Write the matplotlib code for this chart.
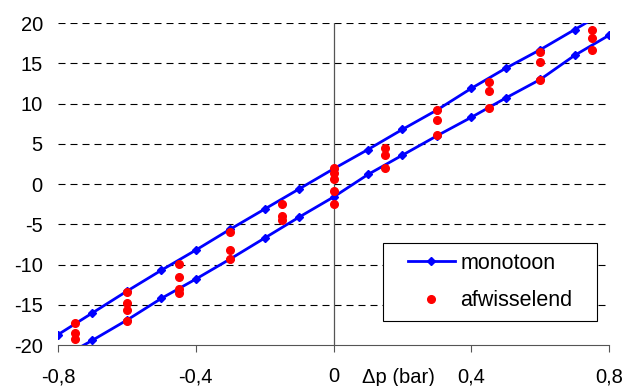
import matplotlib.pyplot as plt
from matplotlib.ticker import FixedLocator
from matplotlib.patches import Rectangle

plt.rcParams['font.family'] = ['Liberation Sans', 'DejaVu Sans']

# monotoon: upper branch and lower branch
mono_up_x = [-0.8, -0.7, -0.6, -0.5, -0.4, -0.3, -0.2, -0.1, 0.0, 0.1, 0.2, 0.3, 0.4, 0.5, 0.6, 0.7, 0.8]
mono_up_y = [-18.7, -16.0, -13.3, -10.7, -8.2, -5.6, -3.1, -0.6, 1.9, 4.3, 6.8, 9.2, 11.9, 14.4, 16.7, 19.2, 21.7]
mono_down_x = [-0.8, -0.7, -0.6, -0.5, -0.4, -0.3, -0.2, -0.1, 0.0, 0.1, 0.2, 0.3, 0.4, 0.5, 0.6, 0.7, 0.8]
mono_down_y = [-21.8, -19.4, -16.9, -14.2, -11.8, -9.3, -6.7, -4.1, -1.6, 1.2, 3.6, 6.0, 8.3, 10.7, 13.0, 16.0, 18.5]

# afwisselend measurements
alt_x = [-0.75, -0.75, -0.75,
         -0.6, -0.6, -0.6, -0.6,
         -0.45, -0.45, -0.45, -0.45,
         -0.3, -0.3, -0.3,
         -0.15, -0.15, -0.15,
         0.0, 0.0, 0.0, 0.0, 0.0,
         0.15, 0.15, 0.15,
         0.3, 0.3, 0.3,
         0.45, 0.45, 0.45,
         0.6, 0.6, 0.6,
         0.75, 0.75, 0.75]
alt_y = [-17.3, -18.5, -19.2,
         -13.4, -14.8, -15.6, -17.0,
         -9.9, -11.5, -13.0, -13.5,
         -6.0, -8.2, -9.3,
         -2.5, -3.9, -4.5,
         2.0, 1.4, 0.6, -0.9, -2.5,
         4.5, 3.6, 2.0,
         9.2, 8.0, 6.1,
         12.7, 11.6, 9.4,
         16.4, 15.2, 12.9,
         19.2, 18.2, 16.7]

xticks = [-0.8, -0.4, 0.0, 0.4, 0.8]
xtick_labels = ['-0,8', '-0,4', '0', '0,4', '0,8']
yticks = [-20, -15, -10, -5, 0, 5, 10, 15, 20]

fig = plt.figure(figsize=(6.26, 3.86), dpi=100)
ax = fig.add_axes([0.0927, 0.106, 0.8803, 0.834])

# dashed gridlines
for y in yticks[1:]:
    ax.axhline(y, color='black', lw=0.8, linestyle=(0, (6.3, 4.5)), zorder=1)
ax.axvline(0, color='#555555', lw=0.9, zorder=1)

ax.plot(mono_up_x, mono_up_y, color='blue', lw=2, marker='D', markersize=4, zorder=3,
        label='monotoon')
ax.plot(mono_down_x, mono_down_y, color='blue', lw=2, marker='D', markersize=4, zorder=3)
ax.plot(alt_x, alt_y, linestyle='none', marker='o', color='red', markersize=5.5, zorder=4,
        label='afwisselend')

ax.set_xlim(-0.8, 0.8)
ax.set_ylim(-20, 20)
ax.xaxis.set_major_locator(FixedLocator(xticks))
ax.set_xticklabels(xtick_labels)
ax.set_yticks(yticks)
ax.set_yticklabels([str(v) for v in yticks])

for s in ['top', 'right', 'left']:
    ax.spines[s].set_visible(False)
ax.spines['bottom'].set_color('#555555')
ax.tick_params(axis='x', direction='out', length=5, color='#555555', labelsize=14.5, pad=11)
ax.tick_params(axis='y', length=0, labelsize=14.5, pad=11)

ax.text(0.188, -24.0, '\u0394p (bar)', ha='center', va='center', fontsize=14.5)

# legend box (Excel style, content centred)
box = Rectangle((0.59, 0.075), 0.388, 0.242, transform=ax.transAxes, facecolor='white',
                edgecolor='black', lw=0.8, zorder=4.5)
ax.add_patch(box)
leg = ax.legend(loc='center', bbox_to_anchor=(0.784, 0.196), fontsize=15.5, frameon=False,
                borderaxespad=0, handlelength=2.2, handletextpad=0.25, labelspacing=0.75,
                borderpad=0)
leg.set_zorder(6)

fig.savefig('out.png', dpi=100)
